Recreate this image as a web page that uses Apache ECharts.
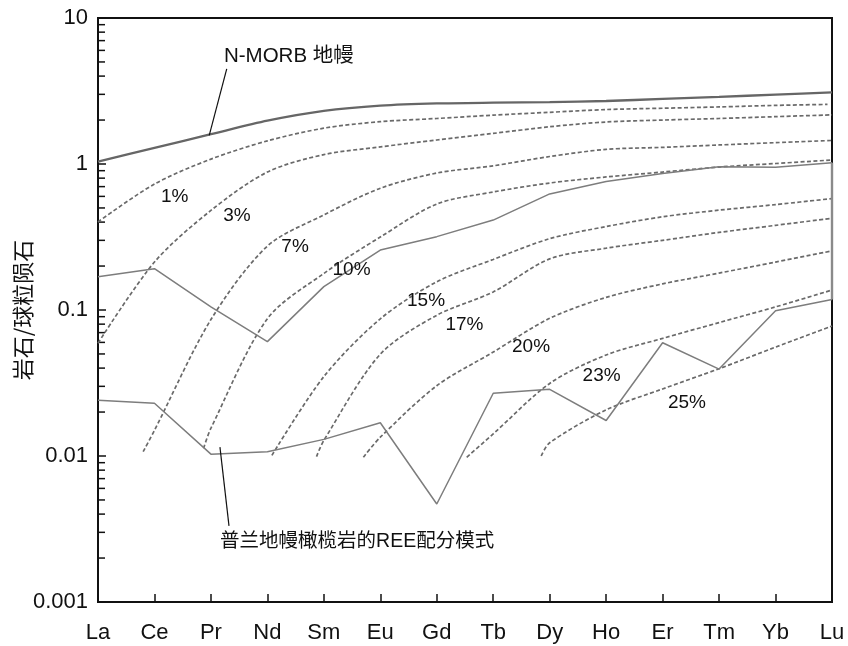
<!DOCTYPE html>
<html>
<head>
<meta charset="utf-8">
<script src="https://cdn.jsdelivr.net/npm/echarts@6/dist/echarts.min.js"></script>
<style>
  html, body { margin: 0; padding: 0; background: #fff; }
  #chart { width: 848px; height: 646px; }
</style>
</head>
<body>
<div id="chart"></div>
<script>
// Chondrite-normalised REE pattern: rock / chondrite
const ELEMENTS = ['La', 'Ce', 'Pr', 'Nd', 'Sm', 'Eu', 'Gd', 'Tb', 'Dy', 'Ho', 'Er', 'Tm', 'Yb', 'Lu'];
const Y_TICK_LABELS = ['0.001', '0.01', '0.1', '1', '10'];

// N-MORB source mantle
const NMORB = [1.04, 1.29, 1.60, 1.98, 2.31, 2.51, 2.60, 2.63, 2.65, 2.70, 2.79, 2.88, 2.99, 3.09];

// Pulan mantle peridotites (upper and lower envelope samples)
const PULAN_A = [0.169, 0.192, 0.105, 0.0607, 0.1445, 0.2575, 0.318, 0.413, 0.624, 0.759, 0.861, 0.959, 0.949, 1.02];
const PULAN_B = [0.0241, 0.0230, 0.0103, 0.0107, 0.0130, 0.0169, 0.00469, 0.0269, 0.0286, 0.0175, 0.0597, 0.0394, 0.0989, 0.118];

// Residues after partial melting, [element position, rock/chondrite]
const MELT_1 = [[0, 0.401], [1, 0.729], [2, 1.08], [3, 1.44], [4, 1.76], [5, 1.95], [6, 2.05], [7, 2.16], [8, 2.26], [9, 2.36], [10, 2.41], [11, 2.46], [12, 2.52], [12.92, 2.56]];
const MELT_3 = [[0, 0.0592], [1, 0.213], [2, 0.481], [3, 0.881], [4, 1.16], [5, 1.31], [6, 1.46], [7, 1.62], [8, 1.80], [9, 1.94], [10, 2.00], [11, 2.05], [12, 2.11], [13, 2.17]];
const MELT_7 = [[0.80, 0.0107], [1, 0.0150], [2, 0.086], [3, 0.274], [4, 0.448], [5, 0.682], [6, 0.867], [7, 0.972], [8, 1.125], [9, 1.26], [10, 1.30], [11, 1.35], [12, 1.40], [13, 1.45]];
const MELT_10 = [[1.87, 0.0113], [2, 0.0155], [3, 0.0872], [4, 0.178], [5, 0.316], [6, 0.532], [7, 0.643], [8, 0.741], [9, 0.815], [10, 0.881], [11, 0.953], [12, 1.008], [13, 1.065]];
const MELT_15 = [[3.08, 0.0101], [4, 0.035], [5, 0.087], [6, 0.156], [7, 0.222], [8, 0.308], [9, 0.373], [10, 0.435], [11, 0.483], [12, 0.527], [13, 0.58]];
const MELT_17 = [[3.87, 0.0099], [4, 0.0128], [5, 0.0498], [6, 0.092], [7, 0.133], [8, 0.224], [9, 0.265], [10, 0.30], [11, 0.34], [12, 0.38], [13, 0.425]];
const MELT_20 = [[4.70, 0.0098], [5, 0.01345], [6, 0.0303], [7, 0.0515], [8, 0.0877], [9, 0.122], [10, 0.151], [11, 0.179], [12, 0.213], [13, 0.254]];
const MELT_23 = [[6.53, 0.0098], [7, 0.01417], [8, 0.0314], [9, 0.0492], [10, 0.0639], [11, 0.082], [12, 0.105], [13, 0.137]];
const MELT_25 = [[7.85, 0.0100], [8, 0.01233], [9, 0.0207], [10, 0.0288], [11, 0.0396], [12, 0.0557], [13, 0.0777]];

const MELT_CURVES = [MELT_1, MELT_3, MELT_7, MELT_10, MELT_15, MELT_17, MELT_20, MELT_23, MELT_25];
const MELT_NAMES = ['1%', '3%', '7%', '10%', '15%', '17%', '20%', '23%', '25%'];
// where each melting-degree tag sits, [element position, rock/chondrite]
const MELT_TAG_AT = [[1.36, 0.597], [2.46, 0.441], [3.49, 0.272], [4.49, 0.188], [5.81, 0.116], [6.49, 0.079], [7.67, 0.056], [8.92, 0.0353], [10.43, 0.0232]];

const NMORB_NAME = 'N-MORB 地幔';
const NMORB_TAG_AT = [3.38, 5.5];
const NMORB_LEADER = [[2.28, 4.48], [1.97, 1.57]];
const PULAN_NAME = '普兰地幔橄榄岩的REE配分模式';
const PULAN_TAG_AT = [4.59, 0.00258];
const PULAN_LEADER = [[2.16, 0.0115], [2.32, 0.00332]];

const LATIN = '"Liberation Sans", Arial, sans-serif';
const CJK = '"Liberation Sans", "Noto Sans CJK SC", sans-serif';
const INK = '#111';
const PULAN_GREY = '#7d7d7d';

const chart = echarts.init(document.getElementById('chart'), null, { renderer: 'canvas' });

const series = [];
MELT_CURVES.forEach((curve, i) => {
  series.push({
    name: MELT_NAMES[i],
    type: 'line',
    data: curve,
    symbol: 'none',
    smooth: 0.3,
    silent: true,
    lineStyle: { color: '#6a6a6a', width: 1.7, type: [4, 2.4] },
    z: 2
  });
});
series.push({
  name: 'N-MORB',
  type: 'line',
  data: NMORB.map((v, i) => [i, v]),
  symbol: 'none',
  smooth: 0.25,
  lineStyle: { color: '#666', width: 2.3 },
  z: 3
});
[PULAN_A, PULAN_B].forEach((arr, k) => {
  series.push({
    name: 'Pulan ' + k,
    type: 'line',
    data: arr.map((v, i) => [i, v]),
    symbol: 'none',
    lineStyle: { color: PULAN_GREY, width: 1.5 },
    z: 3
  });
});
// the two peridotite patterns are closed at Lu, on the frame edge
const lastIdx = ELEMENTS.length - 1;
series.push({
  name: 'Pulan close',
  type: 'line',
  data: [[lastIdx, PULAN_A[lastIdx]], [lastIdx, PULAN_B[lastIdx]]],
  symbol: 'none',
  clip: false,
  lineStyle: { color: '#8a8a8a', width: 2.4 },
  z: 6
});
[NMORB_LEADER, PULAN_LEADER].forEach((seg, k) => {
  series.push({
    name: 'leader ' + k,
    type: 'line',
    data: seg,
    symbol: 'none',
    lineStyle: { color: '#111', width: 1.2 },
    z: 4
  });
});
series.push({
  name: 'melt tags',
  type: 'scatter',
  symbolSize: 0,
  itemStyle: { opacity: 1 },
  data: MELT_TAG_AT.map((p, i) => ({ name: MELT_NAMES[i], value: p })),
  label: {
    show: true, position: 'inside', formatter: '{b}',
    fontFamily: LATIN, fontSize: 19, color: INK
  },
  z: 5
});
series.push({
  name: 'notes',
  type: 'scatter',
  symbolSize: 0,
  itemStyle: { opacity: 1 },
  data: [
    { name: NMORB_NAME, value: NMORB_TAG_AT, label: { fontSize: 20.5 } },
    { name: PULAN_NAME, value: PULAN_TAG_AT, label: { fontSize: 19.5 } }
  ],
  label: {
    show: true, position: 'inside', formatter: '{b}',
    fontFamily: CJK, color: INK
  },
  z: 5
});

chart.setOption({
  animation: false,
  backgroundColor: '#fff',
  grid: {
    left: 98, right: 16, top: 18, bottom: 44,
    outerBoundsMode: 'none',
    containLabel: false,
    show: true, borderColor: '#111', borderWidth: 2, backgroundColor: 'transparent'
  },
  xAxis: {
    type: 'value',
    min: 0, max: 13, interval: 1,
    axisLine: { show: true, lineStyle: { color: '#111', width: 2 } },
    axisTick: { show: true, inside: true, length: 8, lineStyle: { color: '#111', width: 1.5 } },
    splitLine: { show: false },
    axisLabel: {
      margin: 20, fontSize: 22, fontFamily: LATIN, color: INK,
      formatter: v => ELEMENTS[Math.round(v)] || ''
    }
  },
  yAxis: {
    type: 'log',
    logBase: 10,
    min: 0.001, max: 10,
    name: '岩石/球粒陨石',
    nameLocation: 'middle',
    nameRotate: 90,
    nameGap: 64,
    nameMoveOverlap: false,
    nameTextStyle: { fontSize: 22, fontFamily: '"Noto Sans CJK SC", sans-serif', color: INK },
    axisLine: { show: true, lineStyle: { color: '#111', width: 2 } },
    axisTick: { show: true, inside: true, length: 8, lineStyle: { color: '#111', width: 1.5 } },
    splitLine: { show: false },
    axisLabel: {
      margin: 10, fontSize: 22, fontFamily: LATIN, color: INK,
      formatter: v => Y_TICK_LABELS[Math.round(Math.log10(v)) + 3] || ''
    }
  },
  series: series
});

// minor ticks of the log axis (2..9 in each decade)
const x0 = chart.convertToPixel({ xAxisIndex: 0 }, 0);
const minor = [];
for (let d = -3; d <= 0; d++) {
  for (let k = 2; k <= 9; k++) {
    const y = chart.convertToPixel({ yAxisIndex: 0 }, k * Math.pow(10, d));
    minor.push({
      type: 'line',
      shape: { x1: x0, y1: y, x2: x0 + 7, y2: y },
      style: { stroke: '#111', lineWidth: 1.5 },
      silent: true
    });
  }
}
chart.setOption({ graphic: minor });
</script>
</body>
</html>
